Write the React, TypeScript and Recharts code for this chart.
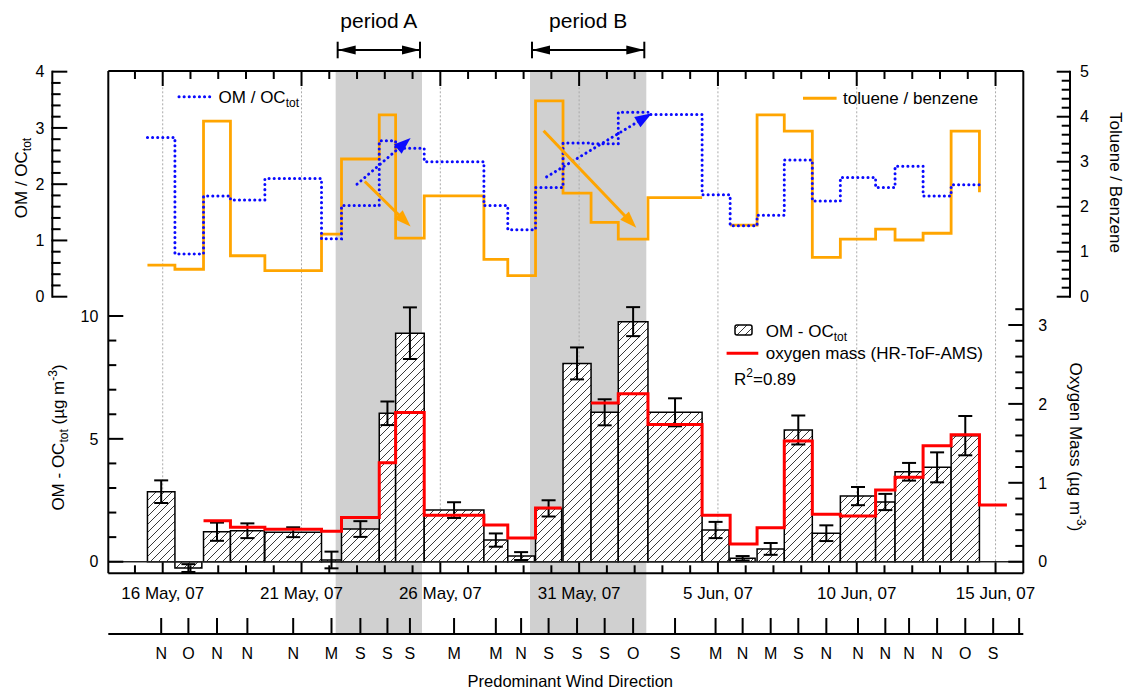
import React from 'react';
import {
  ComposedChart, XAxis, YAxis, Line, Scatter, ErrorBar,
  ReferenceArea, ReferenceLine, Customized,
} from 'recharts';

const FONT = "'Liberation Sans', Arial, Helvetica, sans-serif";

// ---------------- data (time in "May day" units: 1 Jun = 32) ----------------
const sampleStart = [15.45, 16.44, 17.47, 18.44, 19.68, 21.72, 22.44, 23.8, 24.39, 25.42, 27.57, 28.43, 29.43, 30.42,
  31.43, 32.41, 33.48, 35.43, 36.44, 37.41, 38.39, 39.4, 40.41, 41.68, 42.38, 43.39, 44.4, 45.42];
const sampleEnd = [16.44, 17.41, 18.44, 19.66, 21.72, 22.44, 23.8, 24.39, 25.42, 27.57, 28.43, 29.39, 30.37, 31.43,
  32.41, 33.48, 35.43, 36.4, 37.34, 38.39, 39.4, 40.41, 41.68, 42.38, 43.39, 44.4, 45.42, 46.41];
const windDirection = ['N', 'O', 'N', 'N', 'N', 'M', 'S', 'S', 'S', 'M', 'M', 'N', 'S', 'S', 'S', 'O', 'S', 'M', 'N',
  'M', 'S', 'N', 'N', 'N', 'N', 'N', 'O', 'S'];
const omMinusOcTot: (number | null)[] = [2.85, -0.26, 1.22, 1.26, 1.2, 0.07, 1.33, 6.04, 9.3, 2.1, 0.88, 0.23, 2.17,
  8.07, 6.08, 9.77, 6.08, 1.29, 0.14, 0.52, 5.36, 1.16, 2.67, 2.43, 3.66, 3.84, 5.13, null];
const omMinusOcTotErr: (number | null)[] = [0.46, 0.16, 0.37, 0.3, 0.2, 0.34, 0.32, 0.48, 1.05, 0.32, 0.27, 0.16, 0.33,
  0.65, 0.53, 0.59, 0.57, 0.33, 0.09, 0.24, 0.59, 0.32, 0.37, 0.33, 0.36, 0.61, 0.8, null];
const oxygenMass: (number | null)[] = [null, null, 0.52, 0.436, 0.41, 0.385, 0.56, 1.255, 1.89, 0.59, 0.465, 0.3, 0.68,
  null, 2.01, 2.13, 1.74, 0.59, 0.224, 0.43, 1.53, 0.6, 0.58, 0.91, 1.07, 1.47, 1.61, 0.72];
const omOcTotRatio: (number | null)[] = [2.83, 0.76, 1.79, 1.72, 2.1, 1.03, 1.62, 2.77, 2.64, 2.4, 1.62, 1.19, 1.94,
  2.73, 2.72, 3.28, 3.24, 1.81, 1.26, 1.45, 2.43, 1.7, 2.12, 1.94, 2.32, 1.79, 1.99, null];
const tolueneBenzene: (number | null)[] = [0.7, 0.61, 3.9, 0.91, 0.58, 1.39, 3.06, 4.04, 1.3, 2.24, 0.83, 0.47, 4.35,
  2.3, 1.65, 1.28, 2.2, null, 1.59, 4.04, 3.68, 0.875, 1.28, 1.5, 1.26, 1.41, 3.68];
const tolueneBenzeneLast = 2.32;

const periodNames = ['period A', 'period B'];
const periodStart = [22.23, 29.23];
const periodEnd = [25.34, 33.42];

const omOcArrows = [
  { x1: 23.0, y1: 2.0, x2: 24.93, y2: 2.82 },
  { x1: 29.83, y1: 2.13, x2: 33.62, y2: 3.26 },
];
const tolArrows = [
  { x1: 23.28, y1: 2.56, x2: 24.93, y2: 1.56 },
  { x1: 29.72, y1: 3.69, x2: 33.06, y2: 1.53 },
];

const dayTicks = [15, 16, 17, 18, 19, 20, 21, 22, 23, 24, 25, 26, 27, 28, 29, 30, 31, 32, 33, 34, 35, 36, 37, 38, 39,
  40, 41, 42, 43, 44, 45, 46];
const dateLabelDays = [16, 21, 26, 31, 36, 41, 46];
const dateLabels = ['16 May, 07', '21 May, 07', '26 May, 07', '31 May, 07', '5 Jun, 07', '10 Jun, 07', '15 Jun, 07'];
const windExtraTick = 46.85;

const omOcTicks = [0, 1, 2, 3, 4, 5, 6, 7, 8, 9, 10];
const omOcLabelTicks = [0, 5, 10];
const oxygenTicks = [0, 0.2, 0.4, 0.6, 0.8, 1, 1.2, 1.4, 1.6, 1.8, 2, 2.2, 2.4, 2.6, 2.8, 3, 3.2];
const ratioTicks = [0, 0.2, 0.4, 0.6, 0.8, 1, 1.2, 1.4, 1.6, 1.8, 2, 2.2, 2.4, 2.6, 2.8, 3, 3.2, 3.4, 3.6, 3.8, 4];
const tolTicks = [0, 0.2, 0.4, 0.6, 0.8, 1, 1.2, 1.4, 1.6, 1.8, 2, 2.2, 2.4, 2.6, 2.8, 3, 3.2, 3.4, 3.6, 3.8, 4, 4.2,
  4.4, 4.6, 4.8, 5];

// ---------------- layout ----------------
const W = 1125;
const H = 692;
const PLOT_TOP = 71;
const PLOT_BOTTOM = 573.3;
const PLOT_H = PLOT_BOTTOM - PLOT_TOP;
const BL_W = 56;
const TL_W = 52.3;
const BR_W = 46.7;
const TR_W = 55;
const TOP_AX_H = 1;
const DATE_AX_H = 60.7;
const WIND_AX_H = 58;

const X_DOMAIN: [number, number] = [14.04, 47.0];
const BL_DOMAIN: [number, number] = [-0.472, 19.97];
const BR_DOMAIN: [number, number] = [-0.147, 6.219];
const TL_DOMAIN: [number, number] = [-4.917, 4.012];
const TR_DOMAIN: [number, number] = [-6.147, 5.016];
const TL_PX = PLOT_H / (TL_DOMAIN[1] - TL_DOMAIN[0]);
const TR_PX = PLOT_H / (TR_DOMAIN[1] - TR_DOMAIN[0]);

const isInt = (v: number) => Math.abs(v - Math.round(v)) < 1e-6;
const fmt = (v: number) => String(Math.round(v));

// ---------------- derived series ----------------
type Pt = { t: number; v: number | null };
function stepSeries(values: (number | null)[]): Pt[] {
  const pts: Pt[] = [];
  values.forEach((v, i) => {
    if (v == null) {
      pts.push({ t: sampleStart[i], v: null });
    } else {
      pts.push({ t: sampleStart[i], v }, { t: sampleEnd[i], v });
    }
  });
  return pts;
}
const sampleCenter = sampleStart.map((s, i) => (s + sampleEnd[i]) / 2);
const bluePts = stepSeries(omOcTotRatio);
const orangePts = [...stepSeries(tolueneBenzene), { t: sampleStart[tolueneBenzene.length], v: tolueneBenzeneLast }];
const redPts = stepSeries(oxygenMass);
const errPts = sampleCenter
  .map((t, i) => ({ t, om: omMinusOcTot[i], err: omMinusOcTotErr[i] }))
  .filter((d) => d.om != null);
const windTicks = [...sampleCenter, windExtraTick];

// ---------------- tick renderers ----------------
const TK = { stroke: '#000', strokeWidth: 2 };

const TopTick = (p: any) => {
  const major = dateLabelDays.includes(p.payload.value);
  return <line x1={p.x} x2={p.x} y1={p.y} y2={p.y + (major ? 15 : 8)} {...TK} />;
};
const DateTick = (p: any) => {
  const idx = dateLabelDays.indexOf(p.payload.value);
  return (
    <g>
      <line x1={p.x} x2={p.x} y1={p.y} y2={p.y - (idx >= 0 ? 11 : 8)} {...TK} />
      {idx >= 0 && (
        <text x={p.x} y={p.y + 25.7} textAnchor="middle" fontSize={17} fontFamily={FONT} fill="#000">
          {dateLabels[idx]}
        </text>
      )}
    </g>
  );
};
const WindTick = (p: any) => {
  const v = p.payload.value;
  const idx = windTicks.findIndex((w) => Math.abs(w - v) < 1e-6);
  const lab = idx >= 0 && idx < windDirection.length ? windDirection[idx] : '';
  return (
    <g>
      <line x1={p.x} x2={p.x} y1={p.y} y2={p.y - 16} {...TK} />
      {lab && (
        <text x={p.x} y={p.y + 25} textAnchor="middle" fontSize={16} fontFamily={FONT} fill="#000">{lab}</text>
      )}
    </g>
  );
};
const BLTick = (p: any) => {
  const v = p.payload.value;
  const lab = omOcLabelTicks.includes(v);
  return (
    <g>
      <line x1={p.x} x2={p.x + (lab ? 15 : 8)} y1={p.y} y2={p.y} {...TK} />
      {lab && (
        <text x={p.x - 10} y={p.y} dy="0.36em" textAnchor="end" fontSize={16} fontFamily={FONT} fill="#000">{v}</text>
      )}
    </g>
  );
};
const BRTick = (p: any) => {
  const v = p.payload.value;
  const lab = isInt(v);
  return (
    <g>
      <line x1={p.x} x2={p.x - (lab ? 15 : 8)} y1={p.y} y2={p.y} {...TK} />
      {lab && (
        <text x={p.x + 15} y={p.y} dy="0.36em" textAnchor="start" fontSize={16} fontFamily={FONT} fill="#000">{fmt(v)}</text>
      )}
    </g>
  );
};
const TLTick = (p: any) => {
  const v = p.payload.value;
  const lab = isInt(v);
  return (
    <g>
      {v < 4 - 1e-6 && <line x1={p.x} x2={p.x} y1={p.y + 1} y2={p.y - 0.2 * TL_PX - 1} {...TK} />}
      <line x1={p.x} x2={p.x + (lab ? 15 : 8.3)} y1={p.y} y2={p.y} {...TK} />
      {lab && (
        <text x={p.x - 8} y={p.y} dy="0.36em" textAnchor="end" fontSize={16} fontFamily={FONT} fill="#000">{fmt(v)}</text>
      )}
    </g>
  );
};
const TRTick = (p: any) => {
  const v = p.payload.value;
  const lab = isInt(v);
  return (
    <g>
      {v < 5 - 1e-6 && <line x1={p.x} x2={p.x} y1={p.y + 1} y2={p.y - 0.2 * TR_PX - 1} {...TK} />}
      <line x1={p.x} x2={p.x - (lab ? 13.3 : 8.3)} y1={p.y} y2={p.y} {...TK} />
      {lab && (
        <text x={p.x + 10} y={p.y} dy="0.36em" textAnchor="start" fontSize={16} fontFamily={FONT} fill="#000">{fmt(v)}</text>
      )}
    </g>
  );
};

// ---------------- shapes ----------------
const periodShape = (label: string) => (p: any) => {
  const { x, y, width, height } = p;
  const x2 = x + width;
  const ay = y - 21;
  return (
    <g>
      <rect x={x} y={y} width={width} height={height + DATE_AX_H} fill="#d0d0d0" />
      <text x={x + width / 2} y={y - 42.7} textAnchor="middle" fontSize={21} fontFamily={FONT} fill="#000">{label}</text>
      <line x1={x + 2} x2={x + 2} y1={ay - 8.3} y2={ay + 8.3} {...TK} />
      <line x1={x2 - 2} x2={x2 - 2} y1={ay - 8.3} y2={ay + 8.3} {...TK} />
      <line x1={x + 2} x2={x2 - 2} y1={ay} y2={ay} {...TK} />
      <polygon points={`${x + 2},${ay} ${x + 20},${ay - 4.5} ${x + 20},${ay + 4.5}`} fill="#000" />
      <polygon points={`${x2 - 2},${ay} ${x2 - 20},${ay - 4.5} ${x2 - 20},${ay + 4.5}`} fill="#000" />
    </g>
  );
};

const arrowShape = (color: string, dotted: boolean) => (p: any) => {
  const { x1, y1, x2, y2 } = p;
  if ([x1, y1, x2, y2].some((n) => typeof n !== 'number' || isNaN(n))) return <g />;
  const dx = x2 - x1;
  const dy = y2 - y1;
  const len = Math.hypot(dx, dy) || 1;
  const ux = dx / len;
  const uy = dy / len;
  const hl = 17;
  const hw = 6;
  const bx = x2 - ux * hl;
  const by = y2 - uy * hl;
  return (
    <g>
      <line x1={x1} y1={y1} x2={bx + ux * 2} y2={by + uy * 2} stroke={color} strokeWidth={3}
        strokeDasharray={dotted ? '0.1 5' : undefined} strokeLinecap={dotted ? 'round' : 'butt'} />
      <polygon points={`${x2},${y2} ${bx - uy * hw},${by + ux * hw} ${bx + uy * hw},${by - ux * hw}`} fill={color} />
    </g>
  );
};

// ---------------- overlay: titles & legends ----------------
const NB = '\u00a0';
const Overlay = () => (
  <g fontFamily={FONT} fill="#000">
    <text transform="translate(27,178) rotate(-90)" textAnchor="middle" fontSize={17}>
      OM / OC<tspan fontSize={12} dy={4}>tot</tspan>
    </text>
    <text transform="translate(64,437.5) rotate(-90)" textAnchor="middle" fontSize={17}>
      OM - OC<tspan fontSize={12} dy={4}>tot</tspan>
      <tspan dy={-4}>{NB}(µg m</tspan>
      <tspan fontSize={12} dy={-7}>-3</tspan>
      <tspan dy={7}>)</tspan>
    </text>
    <text transform="translate(1069.5,447) rotate(90)" textAnchor="middle" fontSize={17}>
      Oxygen Mass (µg m<tspan fontSize={12} dy={-7}>-3</tspan>
      <tspan dy={7}>)</tspan>
    </text>
    <text transform="translate(1109.5,182.5) rotate(90)" textAnchor="middle" fontSize={17}>
      Toluene / Benzene
    </text>
    <text x={570.3} y={686.5} textAnchor="middle" fontSize={16.5}>Predominant Wind Direction</text>

    <line x1={179} x2={212.5} y1={96.7} y2={96.7} stroke="#0a0aff" strokeWidth={3} strokeDasharray="0.1 5"
      strokeLinecap="round" />
    <text x={218.6} y={103} fontSize={17}>OM / OC<tspan fontSize={12} dy={4}>tot</tspan></text>

    <line x1={803} x2={836.6} y1={98.3} y2={98.3} stroke="#ffa500" strokeWidth={3} />
    <text x={843} y={104} fontSize={17}>toluene / benzene</text>

    <rect x={735} y={325} width={17} height={10} rx={2} fill="url(#omHatch)" stroke="#000" strokeWidth={1.5} />
    <text x={765.7} y={336.5} fontSize={17}>OM - OC<tspan fontSize={12} dy={4}>tot</tspan></text>
    <line x1={726.6} x2={758.3} y1={353.3} y2={353.3} stroke="#ff0000" strokeWidth={3} />
    <text x={765.7} y={358.5} fontSize={17}>oxygen mass (HR-ToF-AMS)</text>
    <text x={734} y={385} fontSize={17}>
      R<tspan fontSize={12} dy={-8}>2</tspan><tspan dy={8}>=0.89</tspan>
    </text>
  </g>
);

export default function App() {
  return (
    <div style={{ position: 'absolute', left: 0, top: 0, width: W, height: H, background: '#fff' }}>
      <svg width={0} height={0} style={{ position: 'absolute' }}>
        <defs>
          <pattern id="omHatch" patternUnits="userSpaceOnUse" width={8} height={8}>
            <rect x={0} y={0} width={8} height={8} fill="#fff" />
            <path d="M0,8 L8,0 M-2,2 L2,-2 M6,10 L10,6" stroke="#3a3a3a" strokeWidth={1} />
          </pattern>
        </defs>
      </svg>
      <ComposedChart width={W} height={H} margin={{ top: PLOT_TOP - TOP_AX_H, right: 0, bottom: 0, left: 0 }}>
        {periodNames.map((name, i) => (
          <ReferenceArea key={name} xAxisId="date" yAxisId="bl" x1={periodStart[i]} x2={periodEnd[i]}
            y1={BL_DOMAIN[0]} y2={BL_DOMAIN[1]} ifOverflow="visible" shape={periodShape(name)} zIndex={-20} />
        ))}
        {dateLabelDays.map((d) => (
          <ReferenceLine key={`g${d}`} xAxisId="date" yAxisId="bl" x={d} stroke="#aaaaaa" strokeWidth={1}
            strokeDasharray="2 2" zIndex={-10} />
        ))}
        {sampleStart.map((s, i) =>
          omMinusOcTot[i] == null ? null : (
            <ReferenceArea key={`b${i}`} xAxisId="date" yAxisId="bl" x1={s} x2={sampleEnd[i]} y1={0}
              y2={omMinusOcTot[i] as number} fill="url(#omHatch)" fillOpacity={1} stroke="#000" strokeWidth={1.5}
              ifOverflow="visible" zIndex={100} />
          ),
        )}
        <ReferenceLine xAxisId="date" yAxisId="bl" y={0} stroke="#222" strokeWidth={1.5} zIndex={110} />
        <Scatter data={errPts} dataKey="om" xAxisId="date" yAxisId="bl" shape={() => <g />}
          isAnimationActive={false} zIndex={300}>
          <ErrorBar dataKey="err" direction="y" width={7} stroke="#000" strokeWidth={2} isAnimationActive={false}
            zIndex={300} />
        </Scatter>
        <Line data={redPts} dataKey="v" xAxisId="date" yAxisId="br" type="stepAfter" stroke="#ff0000"
          strokeWidth={3} dot={false} activeDot={false} isAnimationActive={false} zIndex={400} />
        <Line data={orangePts} dataKey="v" xAxisId="date" yAxisId="tr" type="stepAfter" stroke="#ffa500"
          strokeWidth={2.8} dot={false} activeDot={false} isAnimationActive={false} zIndex={410} />
        <Line data={bluePts} dataKey="v" xAxisId="date" yAxisId="tl" type="stepAfter" stroke="#0a0aff"
          strokeWidth={3} strokeDasharray="0.1 5" strokeLinecap="round" dot={false} activeDot={false}
          isAnimationActive={false} zIndex={420} />
        {/* invisible carriers so that the top and wind axes get a scale */}
        <Line data={bluePts} dataKey="v" xAxisId="top" yAxisId="tl" stroke="none" strokeWidth={0} dot={false}
          activeDot={false} isAnimationActive={false} legendType="none" />
        <Line data={bluePts} dataKey="v" xAxisId="wind" yAxisId="tl" stroke="none" strokeWidth={0} dot={false}
          activeDot={false} isAnimationActive={false} legendType="none" />
        {omOcArrows.map((a, i) => (
          <ReferenceLine key={`ab${i}`} xAxisId="date" yAxisId="tl"
            segment={[{ x: a.x1, y: a.y1 }, { x: a.x2, y: a.y2 }]} ifOverflow="visible"
            shape={arrowShape('#0a0aff', true)} zIndex={430} />
        ))}
        {tolArrows.map((a, i) => (
          <ReferenceLine key={`ao${i}`} xAxisId="date" yAxisId="tr"
            segment={[{ x: a.x1, y: a.y1 }, { x: a.x2, y: a.y2 }]} ifOverflow="visible"
            shape={arrowShape('#ffa500', false)} zIndex={430} />
        ))}

        <XAxis xAxisId="top" dataKey="t" orientation="top" type="number" scale="linear" domain={X_DOMAIN}
          allowDataOverflow ticks={dayTicks} interval={0} height={TOP_AX_H} tickLine={false} tickSize={0}
          tickMargin={0} tick={TopTick} axisLine={{ stroke: '#000', strokeWidth: 2 }} />
        <XAxis xAxisId="date" dataKey="t" orientation="bottom" type="number" scale="linear" domain={X_DOMAIN}
          allowDataOverflow ticks={dayTicks} interval={0} height={DATE_AX_H} tickLine={false} tickSize={0}
          tickMargin={0} tick={DateTick} axisLine={{ stroke: '#000', strokeWidth: 2 }} />
        <XAxis xAxisId="wind" dataKey="t" orientation="bottom" type="number" scale="linear" domain={X_DOMAIN}
          allowDataOverflow ticks={windTicks} interval={0} height={WIND_AX_H} tickLine={false} tickSize={0}
          tickMargin={0} tick={WindTick} axisLine={{ stroke: '#000', strokeWidth: 2 }} />
        <YAxis yAxisId="bl" orientation="left" type="number" scale="linear" domain={BL_DOMAIN} allowDataOverflow
          ticks={omOcTicks} interval={0} width={BL_W} tickLine={false} tickSize={0} tickMargin={0} tick={BLTick}
          axisLine={{ stroke: '#000', strokeWidth: 2 }} />
        <YAxis yAxisId="tl" orientation="left" type="number" scale="linear" domain={TL_DOMAIN} allowDataOverflow
          ticks={ratioTicks} interval={0} width={TL_W} tickLine={false} tickSize={0} tickMargin={0} tick={TLTick}
          axisLine={false} />
        <YAxis yAxisId="br" orientation="right" type="number" scale="linear" domain={BR_DOMAIN} allowDataOverflow
          ticks={oxygenTicks} interval={0} width={BR_W} tickLine={false} tickSize={0} tickMargin={0} tick={BRTick}
          axisLine={{ stroke: '#000', strokeWidth: 2 }} />
        <YAxis yAxisId="tr" orientation="right" type="number" scale="linear" domain={TR_DOMAIN} allowDataOverflow
          ticks={tolTicks} interval={0} width={TR_W} tickLine={false} tickSize={0} tickMargin={0} tick={TRTick}
          axisLine={false} />
        <Customized component={Overlay} />
      </ComposedChart>
    </div>
  );
}
